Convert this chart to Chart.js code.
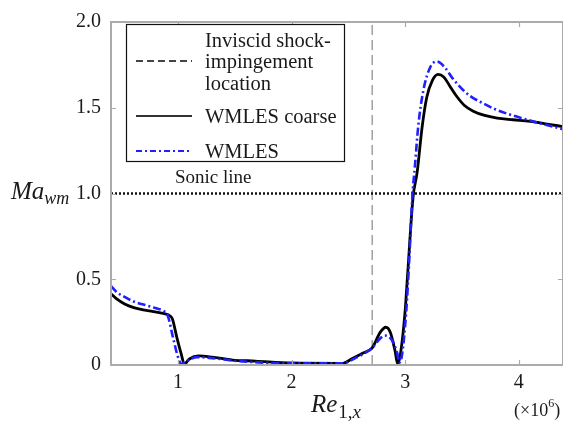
<!DOCTYPE html>
<html>
<head>
<meta charset="utf-8">
<script src="https://cdn.jsdelivr.net/npm/chart.js@4"></script>
<style>
  html, body { margin: 0; padding: 0; background: #fff; }
  #wrap { width: 563px; height: 421px; }
</style>
</head>
<body>
<div id="wrap"><canvas id="chart" width="563" height="421"></canvas></div>
<script>
// Re_{1,x} (x10^6) and Ma_wm
const coarseX = [0.41, 0.46, 0.53, 0.61, 0.71, 0.80, 0.88, 0.92, 0.95, 0.99, 1.03, 1.055, 1.10, 1.18, 1.30, 1.48, 1.68, 2.0, 2.45, 2.54, 2.63, 2.71, 2.78, 2.83, 2.87, 2.91, 2.935, 2.96, 3.0, 3.02, 3.07, 3.105, 3.15, 3.19, 3.24, 3.29, 3.34, 3.39, 3.45, 3.52, 3.60, 3.70, 3.81, 3.95, 4.10, 4.25, 4.39];
const coarseY = [0.415, 0.385, 0.356, 0.335, 0.32, 0.31, 0.30, 0.29, 0.27, 0.16, 0.06, 0.005, 0.035, 0.053, 0.046, 0.029, 0.023, 0.012, 0.01, 0.04, 0.07, 0.10, 0.19, 0.22, 0.19, 0.086, 0.005, 0.07, 0.316, 0.51, 0.98, 1.12, 1.39, 1.56, 1.66, 1.695, 1.68, 1.63, 1.57, 1.515, 1.48, 1.455, 1.44, 1.43, 1.42, 1.405, 1.39];

const wmlesX = [0.41, 0.46, 0.53, 0.61, 0.71, 0.80, 0.87, 0.91, 0.956, 1.0, 1.03, 1.08, 1.167, 1.30, 1.53, 2.0, 2.45, 2.56, 2.71, 2.78, 2.82, 2.885, 2.93, 2.95, 2.975, 3.01, 3.035, 3.065, 3.085, 3.115, 3.16, 3.22, 3.28, 3.35, 3.42, 3.50, 3.58, 3.66, 3.78, 3.90, 4.13, 4.39];
const wmlesY = [0.46, 0.425, 0.397, 0.37, 0.35, 0.332, 0.316, 0.287, 0.16, 0.046, 0.005, 0.025, 0.046, 0.04, 0.023, 0.01, 0.01, 0.04, 0.10, 0.155, 0.172, 0.144, 0.07, 0.013, 0.07, 0.316, 0.6, 1.0, 1.15, 1.39, 1.60, 1.735, 1.77, 1.735, 1.67, 1.61, 1.565, 1.535, 1.495, 1.465, 1.42, 1.375];

const shockX = [2.71, 2.71];
const shockY = [0, 2];
const sonicX = [0.41, 4.39];
const sonicY = [1, 1];

const xTicks = [1, 2, 3, 4];
const yTicks = [0, 0.5, 1.0, 1.5, 2.0];
const yTickLabels = ["0", "0.5", "1.0", "1.5", "2.0"];

const xMin = 0.41, xMax = 4.39, yMin = 0, yMax = 2;

const legendLines = [
    { lines: ["Inviscid shock-", "impingement", "location"], y: 61, color: "#444", width: 2, dash: [7, 4] },
    { lines: ["WMLES coarse"], y: 116, color: "#333", width: 2, dash: [] },
    { lines: ["WMLES"], y: 151, color: "#1f1fff", width: 2, dash: [6, 3, 2, 3] }
];

const zip = (xs, ys) => xs.map((x, i) => ({ x, y: ys[i] }));

const SERIF = '"Liberation Serif", "DejaVu Serif", serif';
const TEXT = "#1a1a1a";

// frame, inward ticks, axis titles, legend box
const decorPlugin = {
    id: "decor",
    afterDraw(chart) {
        const ctx = chart.ctx;
        const { left, right, top, bottom } = chart.chartArea;
        const xs = chart.scales.x, ys = chart.scales.y;

        ctx.save();
        ctx.strokeStyle = "#ababab";
        ctx.lineWidth = 2;
        ctx.setLineDash([]);
        ctx.strokeRect(left, top, right - left, bottom - top);

        ctx.lineWidth = 1.2;
        ctx.beginPath();
        xTicks.forEach(v => {
            const px = Math.round(xs.getPixelForValue(v)) + 0.5;
            ctx.moveTo(px, bottom); ctx.lineTo(px, bottom - 5);
            ctx.moveTo(px, top); ctx.lineTo(px, top + 5);
        });
        yTicks.forEach(v => {
            const py = Math.round(ys.getPixelForValue(v)) + 0.5;
            ctx.moveTo(left, py); ctx.lineTo(left + 5, py);
            ctx.moveTo(right, py); ctx.lineTo(right - 5, py);
        });
        ctx.stroke();

        ctx.fillStyle = TEXT;
        ctx.textBaseline = "alphabetic";
        ctx.textAlign = "left";

        // y axis title Ma_wm
        ctx.font = `italic 25px ${SERIF}`;
        ctx.fillText("Ma", 11, 199);
        let w = ctx.measureText("Ma").width;
        ctx.font = `italic 18px ${SERIF}`;
        ctx.fillText("wm", 11 + w, 204);

        // x axis title Re_{1,x}
        ctx.font = `italic 25px ${SERIF}`;
        ctx.fillText("Re", 311, 412);
        w = ctx.measureText("Re").width;
        ctx.font = `19px ${SERIF}`;
        ctx.fillText("1,", 312 + w, 418);
        const w2 = ctx.measureText("1,").width;
        ctx.font = `italic 19px ${SERIF}`;
        ctx.fillText("x", 312 + w + w2, 418);

        // (x10^6)
        ctx.font = `18px ${SERIF}`;
        ctx.fillText("(\u00d710", 514, 416);
        w = ctx.measureText("(\u00d710").width;
        ctx.font = `12px ${SERIF}`;
        ctx.fillText("6", 514 + w, 407);
        const w3 = ctx.measureText("6").width;
        ctx.font = `18px ${SERIF}`;
        ctx.fillText(")", 514 + w + w3, 416);

        // sonic line label
        ctx.font = `19px ${SERIF}`;
        ctx.fillText("Sonic line", 175, 183);

        // legend
        ctx.fillStyle = "#fff";
        ctx.fillRect(126, 24, 219, 138);
        ctx.strokeStyle = "#111";
        ctx.lineWidth = 1.2;
        ctx.strokeRect(126.5, 24.5, 218, 137);

        legendLines.forEach(item => {
            ctx.strokeStyle = item.color;
            ctx.lineWidth = item.width;
            ctx.setLineDash(item.dash);
            ctx.beginPath();
            ctx.moveTo(136, item.y);
            ctx.lineTo(192, item.y);
            ctx.stroke();
            ctx.setLineDash([]);
            ctx.fillStyle = TEXT;
            ctx.font = `20.5px ${SERIF}`;
            const n = item.lines.length;
            item.lines.forEach((t, i) => {
                const cy = item.y + (i - (n - 1) / 2) * 21.5;
                ctx.fillText(t, 205, cy + 7);
            });
        });
        ctx.restore();
    }
};

new Chart(document.getElementById("chart"), {
    type: "scatter",
    data: {
        datasets: [
            {
                label: "WMLES",
                data: zip(wmlesX, wmlesY),
                showLine: true,
                borderColor: "#1f1fff",
                borderWidth: 2.6,
                borderDash: [8, 3, 2, 3],
                pointRadius: 0,
                cubicInterpolationMode: "monotone",
                order: 0
            },
            {
                label: "WMLES coarse",
                data: zip(coarseX, coarseY),
                showLine: true,
                borderColor: "#000",
                borderWidth: 2.8,
                pointRadius: 0,
                cubicInterpolationMode: "monotone",
                order: 1
            },
            {
                label: "Sonic line",
                data: zip(sonicX, sonicY),
                showLine: true,
                borderColor: "#111",
                borderWidth: 2.5,
                borderDash: [2, 2],
                pointRadius: 0,
                order: 2
            },
            {
                label: "Inviscid shock-impingement location",
                data: zip(shockX, shockY),
                showLine: true,
                borderColor: "#a0a0a0",
                borderWidth: 1.5,
                borderDash: [10, 5],
                pointRadius: 0,
                order: 3
            }
        ]
    },
    options: {
        responsive: false,
        animation: false,
        layout: { padding: { top: 17, right: 0, left: 0, bottom: 0 } },
        plugins: {
            legend: { display: false },
            tooltip: { enabled: false }
        },
        scales: {
            x: {
                type: "linear",
                min: xMin,
                max: xMax,
                grid: { display: false, drawTicks: false },
                border: { display: false },
                afterBuildTicks: s => { s.ticks = xTicks.map(v => ({ value: v })); },
                afterFit: s => { s.height = 56; },
                ticks: {
                    color: TEXT,
                    padding: 6,
                    maxRotation: 0,
                    font: { family: SERIF, size: 20 },
                    callback: v => String(v)
                }
            },
            y: {
                min: yMin,
                max: yMax,
                grid: { display: false, drawTicks: false },
                border: { display: false },
                afterBuildTicks: s => { s.ticks = yTicks.map(v => ({ value: v })); },
                afterFit: s => { s.width = 111; },
                ticks: {
                    color: TEXT,
                    padding: 10,
                    font: { family: SERIF, size: 20 },
                    callback: (v, i) => yTickLabels[i]
                }
            }
        }
    },
    plugins: [decorPlugin]
});
</script>
</body>
</html>
